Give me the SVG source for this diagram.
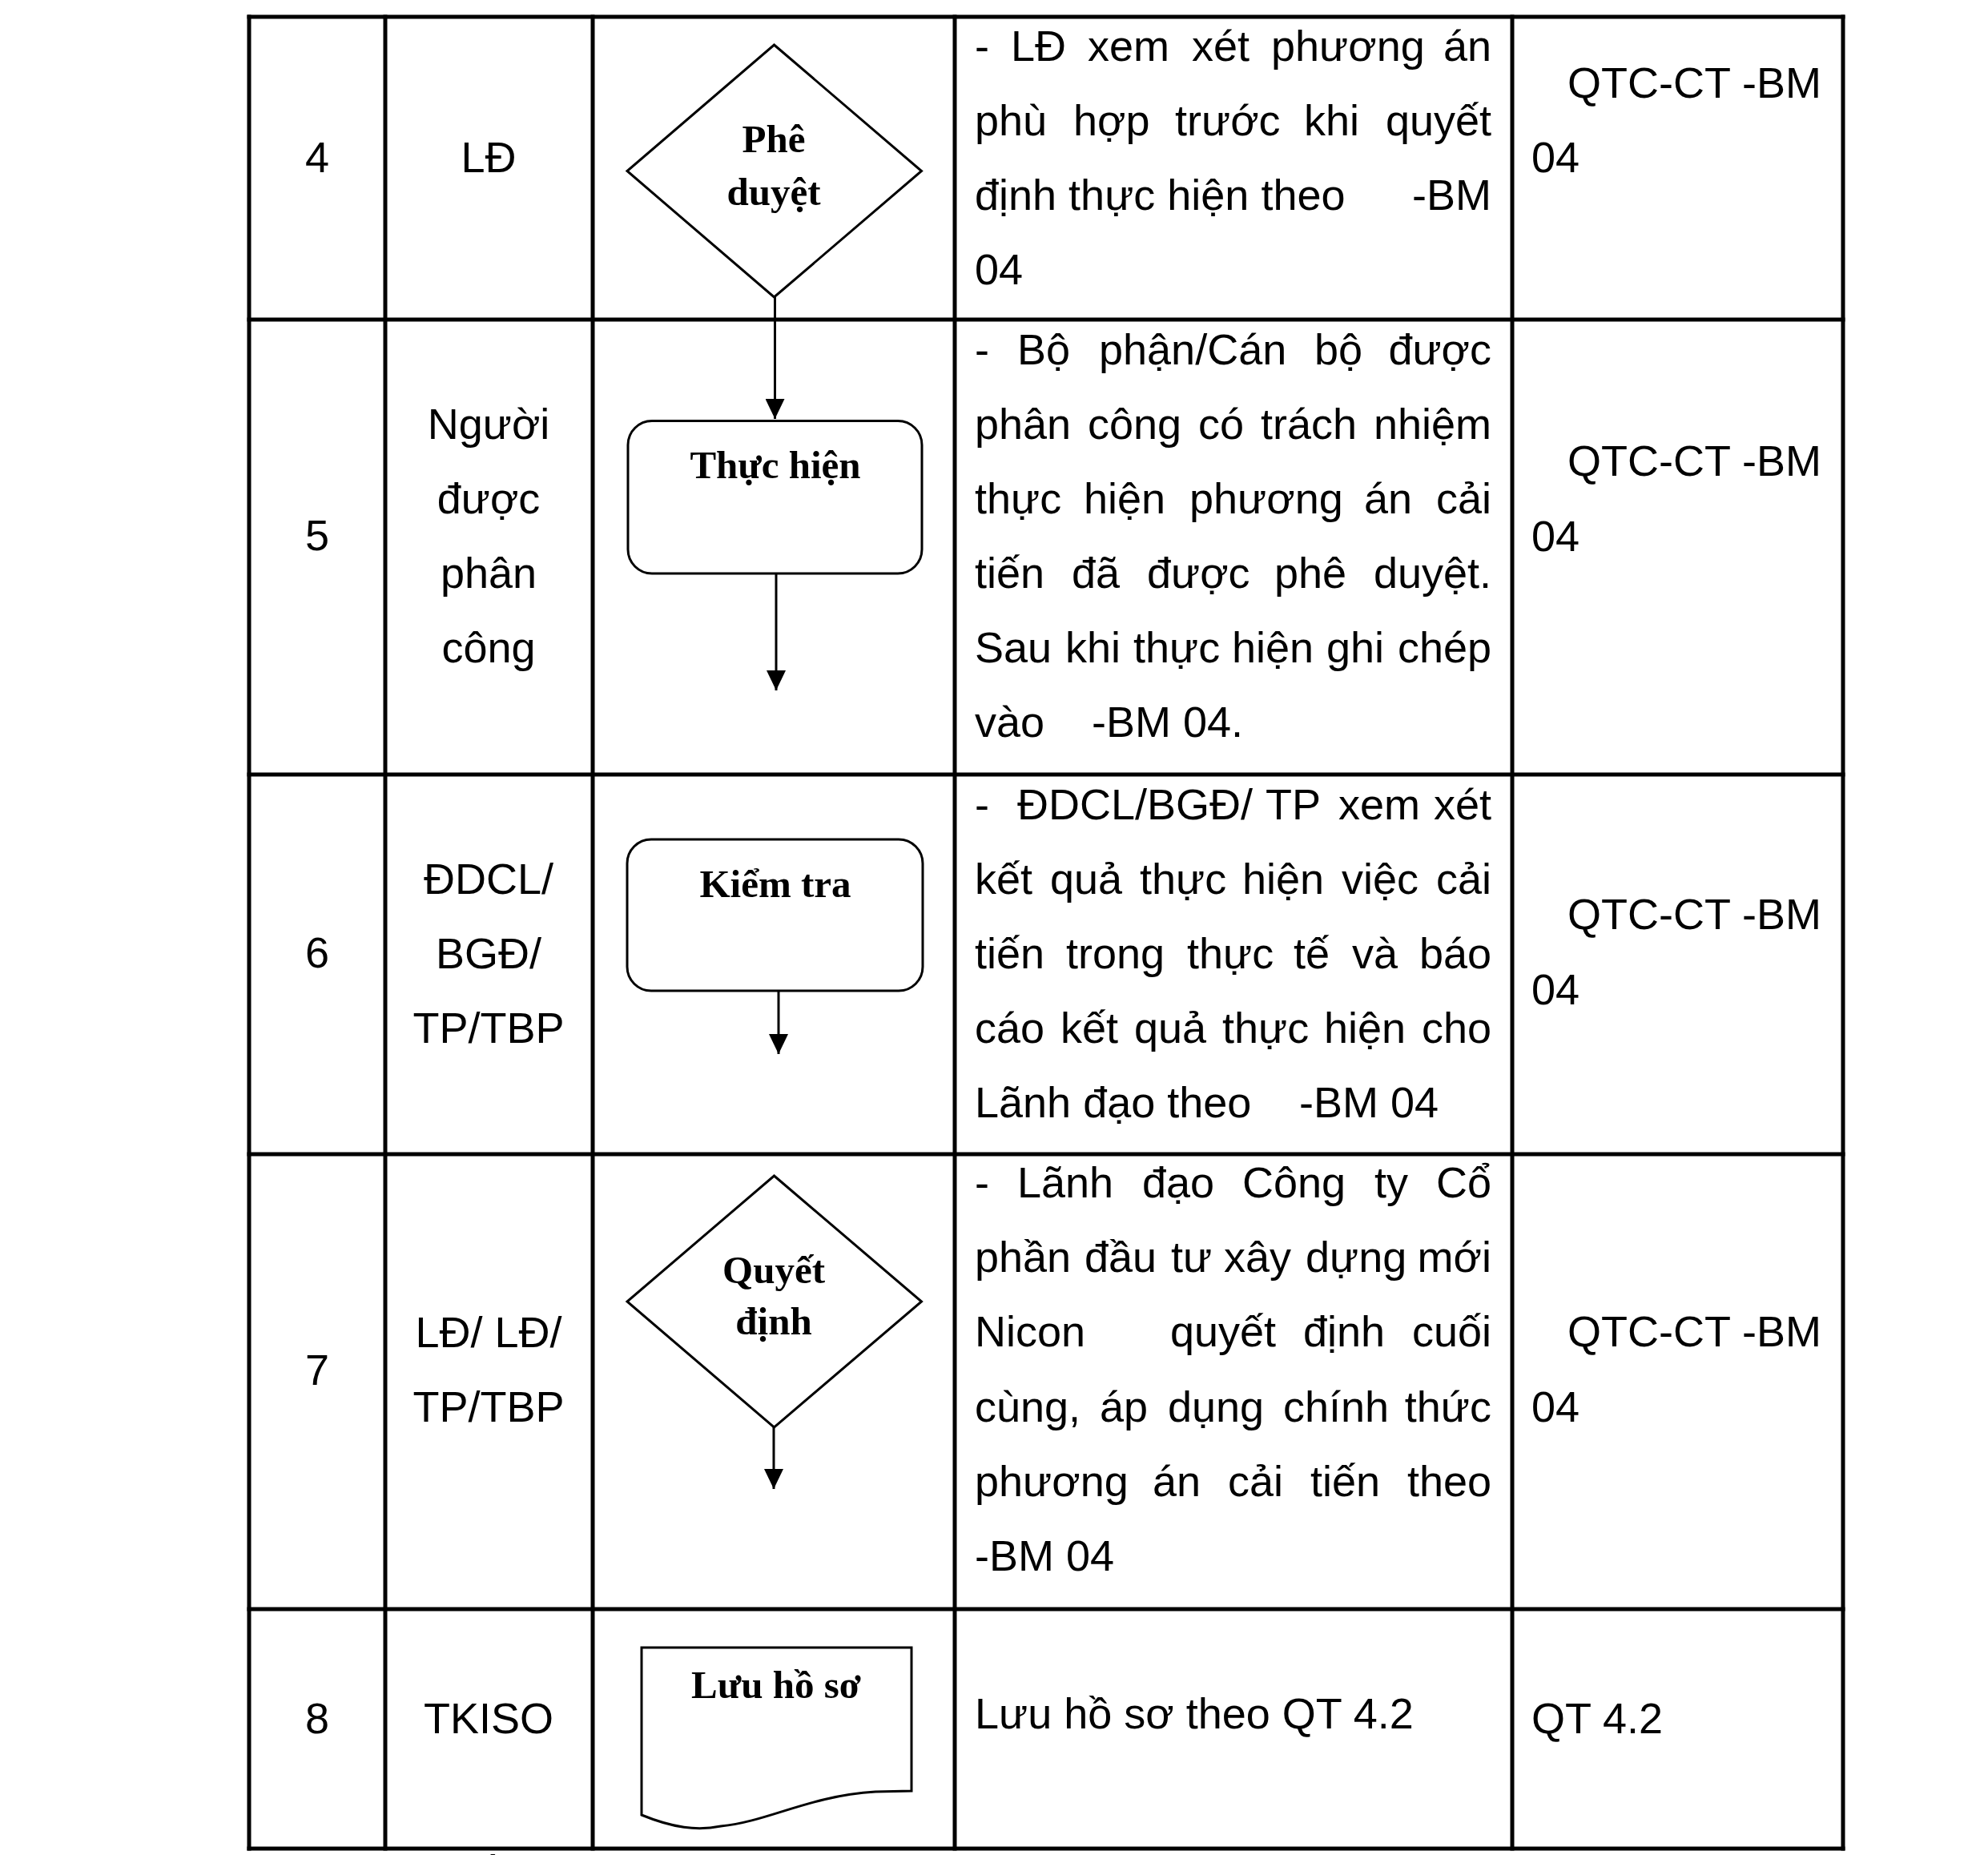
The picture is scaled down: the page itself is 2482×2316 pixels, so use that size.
<svg xmlns="http://www.w3.org/2000/svg" width="2482" height="2316" viewBox="0 0 2482 2316">
<style>
.grid line{stroke:#000;stroke-width:5;stroke-linecap:square}
.t{font-family:"Liberation Sans",Arial,sans-serif;font-size:54px;fill:#000}
.e{font-family:"Liberation Sans",Arial,sans-serif;font-size:54px;fill:#000;text-anchor:end}
.c{font-family:"Liberation Sans",Arial,sans-serif;font-size:54px;fill:#000;text-anchor:middle}
.b{font-family:"Liberation Serif","Times New Roman",serif;font-size:49px;font-weight:bold;fill:#000;text-anchor:middle}
.shape{fill:#fff;stroke:#000;stroke-width:3}
.conn{stroke:#000;stroke-width:3;fill:none}
</style>
<defs>
<marker id="arr" markerUnits="userSpaceOnUse" markerWidth="26" markerHeight="24" refX="25" refY="12" orient="auto">
<path d="M0,0 L25,12 L0,24 z" fill="#000"/>
</marker>
</defs>
<rect x="0" y="0" width="2482" height="2316" fill="#fff"/>

<text class="c" x="626" y="2356">ồ</text>

<g class="grid" id="grid">
<line x1="311" y1="21" x2="2301" y2="21"/>
<line x1="311" y1="399" x2="2301" y2="399"/>
<line x1="311" y1="967" x2="2301" y2="967"/>
<line x1="311" y1="1441" x2="2301" y2="1441"/>
<line x1="311" y1="2009" x2="2301" y2="2009"/>
<line x1="311" y1="2308" x2="2301" y2="2308"/>
<line x1="311" y1="21" x2="311" y2="2308"/>
<line x1="481" y1="21" x2="481" y2="2308"/>
<line x1="740" y1="21" x2="740" y2="2308"/>
<line x1="1192" y1="21" x2="1192" y2="2308"/>
<line x1="1888" y1="21" x2="1888" y2="2308"/>
<line x1="2301" y1="21" x2="2301" y2="2308"/>
</g>

<g id="row4-cells">
<text class="c" x="396" y="215">4</text>
<text class="c" x="610" y="215">LĐ</text>
<text class="t" y="76"><tspan x="1217">-</tspan><tspan x="1262">LĐ</tspan><tspan x="1358">xem</tspan><tspan x="1488">xét</tspan><tspan x="1587">phương</tspan></text>
<text class="e" x="1862" y="76">án</text>
<text class="t" y="169"><tspan x="1217">phù</tspan><tspan x="1340">hợp</tspan><tspan x="1467">trước</tspan><tspan x="1628">khi</tspan></text>
<text class="e" x="1862" y="169">quyết</text>
<text class="t" x="1217" y="262">định thực hiện theo</text>
<text class="e" x="1862" y="262">-BM</text>
<text class="t" x="1217" y="355">04</text>
<text class="t" x="1957" y="122">QTC-CT -BM</text>
<text class="t" x="1912" y="215">04</text>
</g>

<g id="row5-cells">
<text class="c" x="396" y="687">5</text>
<text class="c" x="610" y="548">Người</text>
<text class="c" x="610" y="641">được</text>
<text class="c" x="610" y="734">phân</text>
<text class="c" x="610" y="827">công</text>
<text class="t" y="455"><tspan x="1217">-</tspan><tspan x="1270">Bộ</tspan><tspan x="1372">phận/Cán</tspan><tspan x="1641">bộ</tspan></text>
<text class="e" x="1862" y="455">được</text>
<text class="t" y="548"><tspan x="1217">phân</tspan><tspan x="1358">công</tspan><tspan x="1496">có</tspan><tspan x="1574">trách</tspan></text>
<text class="e" x="1862" y="548">nhiệm</text>
<text class="t" y="641"><tspan x="1217">thực</tspan><tspan x="1353">hiện</tspan><tspan x="1485">phương</tspan><tspan x="1703">án</tspan></text>
<text class="e" x="1862" y="641">cải</text>
<text class="t" y="734"><tspan x="1217">tiến</tspan><tspan x="1338">đã</tspan><tspan x="1432">được</tspan><tspan x="1591">phê</tspan></text>
<text class="e" x="1862" y="734">duyệt.</text>
<text class="t" y="827"><tspan x="1217">Sau</tspan><tspan x="1330">khi</tspan><tspan x="1415">thực</tspan><tspan x="1538">hiện</tspan><tspan x="1656">ghi</tspan></text>
<text class="e" x="1862" y="827">chép</text>
<text class="t" y="920"><tspan x="1217">vào</tspan><tspan x="1363">-BM 04.</tspan></text>
<text class="t" x="1957" y="594">QTC-CT -BM</text>
<text class="t" x="1912" y="688">04</text>
</g>

<g id="row6-cells">
<text class="c" x="396" y="1208">6</text>
<text class="c" x="610" y="1116">ĐDCL/</text>
<text class="c" x="610" y="1209">BGĐ/</text>
<text class="c" x="610" y="1302">TP/TBP</text>
<text class="t" y="1023"><tspan x="1217">-</tspan><tspan x="1270">ĐDCL/BGĐ/</tspan><tspan x="1580">TP</tspan><tspan x="1671">xem</tspan></text>
<text class="e" x="1862" y="1023">xét</text>
<text class="t" y="1116"><tspan x="1217">kết</tspan><tspan x="1311">quả</tspan><tspan x="1423">thực</tspan><tspan x="1551">hiện</tspan><tspan x="1675">việc</tspan></text>
<text class="e" x="1862" y="1116">cải</text>
<text class="t" y="1209"><tspan x="1217">tiến</tspan><tspan x="1331">trong</tspan><tspan x="1482">thực</tspan><tspan x="1615">tế</tspan><tspan x="1688">và</tspan></text>
<text class="e" x="1862" y="1209">báo</text>
<text class="t" y="1302"><tspan x="1217">cáo</tspan><tspan x="1324">kết</tspan><tspan x="1416">quả</tspan><tspan x="1526">thực</tspan><tspan x="1653">hiện</tspan></text>
<text class="e" x="1862" y="1302">cho</text>
<text class="t" y="1395"><tspan x="1217">Lãnh đạo theo</tspan><tspan x="1622">-BM 04</tspan></text>
<text class="t" x="1957" y="1160">QTC-CT -BM</text>
<text class="t" x="1912" y="1254">04</text>
</g>

<g id="row7-cells">
<text class="c" x="396" y="1729">7</text>
<text class="c" x="610" y="1682">LĐ/ LĐ/</text>
<text class="c" x="610" y="1775">TP/TBP</text>
<text class="t" y="1495"><tspan x="1217">-</tspan><tspan x="1270">Lãnh</tspan><tspan x="1426">đạo</tspan><tspan x="1551">Công</tspan><tspan x="1716">ty</tspan></text>
<text class="e" x="1862" y="1495">Cổ</text>
<text class="t" y="1588"><tspan x="1217">phần</tspan><tspan x="1354">đầu</tspan><tspan x="1462">tư</tspan><tspan x="1528">xây</tspan><tspan x="1630">dựng</tspan></text>
<text class="e" x="1862" y="1588">mới</text>
<text class="t" y="1681"><tspan x="1217">Nicon</tspan><tspan x="1461">quyết</tspan><tspan x="1627">định</tspan></text>
<text class="e" x="1862" y="1681">cuối</text>
<text class="t" y="1775"><tspan x="1217">cùng,</tspan><tspan x="1373">áp</tspan><tspan x="1458">dụng</tspan><tspan x="1602">chính</tspan></text>
<text class="e" x="1862" y="1775">thức</text>
<text class="t" y="1868"><tspan x="1217">phương</tspan><tspan x="1439">án</tspan><tspan x="1533">cải</tspan><tspan x="1636">tiến</tspan></text>
<text class="e" x="1862" y="1868">theo</text>
<text class="t" x="1217" y="1961">-BM 04</text>
<text class="t" x="1957" y="1681">QTC-CT -BM</text>
<text class="t" x="1912" y="1775">04</text>
</g>

<g id="row8-cells">
<text class="c" x="396" y="2164">8</text>
<text class="c" x="610" y="2164">TKISO</text>
<text class="t" x="1217" y="2158">Lưu hồ sơ theo QT 4.2</text>
<text class="t" x="1912" y="2164">QT 4.2</text>
</g>

<g id="node-pheduyet">
<polygon class="shape" points="966.5,56 1150.5,213.5 966.5,371 783,213.5"/>
<text class="b" x="966" y="190">Phê</text>
<text class="b" x="966" y="256">duyệt</text>
</g>

<g id="node-thuchien">
<rect class="shape" x="784" y="525.5" width="367" height="190.5" rx="30" ry="30"/>
<text class="b" x="968" y="597">Thực hiện</text>
</g>

<g id="node-kiemtra">
<rect class="shape" x="783" y="1048" width="369" height="189" rx="30" ry="30"/>
<text class="b" x="968" y="1120">Kiểm tra</text>
</g>

<g id="node-quyetdinh">
<polygon class="shape" points="966.5,1468 1150.5,1625 966.5,1782 783,1625"/>
<text class="b" x="966" y="1602">Quyết</text>
<text class="b" x="966" y="1666">định</text>
</g>

<g id="node-luuhoso">
<path class="shape" stroke-width="3.5" d="M801,2057 L1138,2057 L1138,2236 L1093,2237 C1010,2242 960,2274 900,2280 C870,2286 840,2282 801,2266 Z"/>
<text class="b" x="969" y="2120">Lưu hồ sơ</text>
</g>

<g id="connectors">
<path class="conn" d="M967.5,371 L967.5,523" marker-end="url(#arr)"/>
<path class="conn" d="M969,716 L969,862" marker-end="url(#arr)"/>
<path class="conn" d="M972,1237 L972,1316" marker-end="url(#arr)"/>
<path class="conn" d="M966,1782 L966,1859" marker-end="url(#arr)"/>
</g>
</svg>
